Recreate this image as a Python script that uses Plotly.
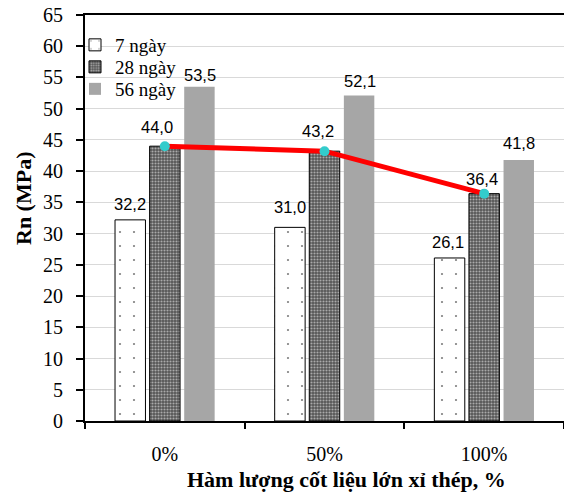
import plotly.graph_objects as go

categories = ["0%", "50%", "100%"]
series_names = ["7 ngày", "28 ngày", "56 ngày"]
values_7 = [32.2, 31.0, 26.1]
values_28 = [44.0, 43.2, 36.4]
values_56 = [53.5, 52.1, 41.8]
y_ticks = list(range(0, 70, 5))

label_text = lambda v: f"{v:.1f}".replace(".", ",")

W, H = 564, 493
ML, MR, MT, MB = 85, 0, 15, 72
PW, PH = W - ML - MR, H - MT - MB

def py(pix):
    return (H - MB - pix) / PH

def px(pix):
    return (pix - ML) / PW

SERIF = "Liberation Serif"
SANS = "Liberation Sans"

fig = go.Figure()

fig.add_trace(go.Bar(
    x=categories, y=values_7, name=series_names[0], legend="legend",
    marker=dict(color="white", line=dict(color="black", width=1),
                pattern=dict(shape=".", fgcolor="black", bgcolor="white",
                             size=14, solidity=0.02)),
))
fig.add_trace(go.Bar(
    x=categories, y=values_28, name=series_names[1], legend="legend2",
    marker=dict(color="#555555", line=dict(color="black", width=1),
                pattern=dict(shape=".", fgcolor="white", bgcolor="#555555",
                             size=3, solidity=0.4)),
))
fig.add_trace(go.Bar(
    x=categories, y=values_56, name=series_names[2], legend="legend3",
    marker=dict(color="#a6a6a6", line=dict(width=0)),
))
fig.add_trace(go.Scatter(
    x=categories, y=values_28, mode="lines+markers", showlegend=False,
    line=dict(color="#ff0000", width=5),
    marker=dict(color="#33cccc", size=10),
))

# data labels: (values, xshift px, yshift px list)
label_specs = [
    (values_7, [-35, -35, -36], [16, 20, 16]),
    (values_28, [-8, -7, -2], [19, 20, 15]),
    (values_56, [35, 35, 35], [12, 15, 17]),
]
annotations = []
for vals, xs, ys in label_specs:
    for c, v, dx, dy in zip(categories, vals, xs, ys):
        annotations.append(dict(
            x=c, y=v, xref="x", yref="y", text=label_text(v), showarrow=False,
            xanchor="center", yanchor="middle", xshift=dx, yshift=dy,
            font=dict(family=SANS, size=16.5, color="black"),
        ))

annotations.append(dict(
    x=px(346), y=py(479), xref="paper", yref="paper",
    text="<b>Hàm lượng cốt liệu lớn xỉ thép, %</b>", showarrow=False,
    xanchor="center", yanchor="middle",
    font=dict(family=SERIF, size=22, color="black"),
))
annotations.append(dict(
    x=px(23), y=py(199), xref="paper", yref="paper",
    text="<b>Rn (MPa)</b>", showarrow=False, textangle=-90,
    xanchor="center", yanchor="middle",
    font=dict(family=SERIF, size=22, color="black"),
))

legend_font = dict(family=SERIF, size=19, color="black")
def legend_at(ycenter):
    return dict(x=px(75), y=py(ycenter), xanchor="left", yanchor="middle",
                bgcolor="rgba(0,0,0,0)", borderwidth=0, font=legend_font)

fig.update_layout(
    width=W, height=H,
    margin=dict(l=ML, r=MR, t=MT, b=MB),
    paper_bgcolor="white", plot_bgcolor="white",
    font=dict(family=SERIF, color="black"),
    barmode="group", bargap=0.35, bargroupgap=0.12,
    legend=legend_at(45), legend2=legend_at(67), legend3=legend_at(89),
    annotations=annotations,
    xaxis=dict(
        type="category", categoryorder="array", categoryarray=categories,
        range=[-0.5, 2.5], tickson="boundaries",
        ticks="outside", ticklen=6, tickwidth=1.5, tickcolor="black",
        showline=True, linecolor="black", linewidth=2, mirror=True,
        showgrid=False, ticklabelstandoff=14,
        tickfont=dict(family=SERIF, size=20, color="black"),
    ),
    yaxis=dict(
        range=[0, 65], tickvals=y_ticks, ticktext=[str(t) for t in y_ticks],
        ticks="outside", ticklen=7, tickwidth=1.5, tickcolor="black",
        showline=True, linecolor="black", linewidth=2,
        showgrid=True, gridcolor="#d9d9d9", gridwidth=1, zeroline=False,
        ticklabelstandoff=9,
        tickfont=dict(family=SERIF, size=20, color="black"),
    ),
)

fig.write_html("out.html")
